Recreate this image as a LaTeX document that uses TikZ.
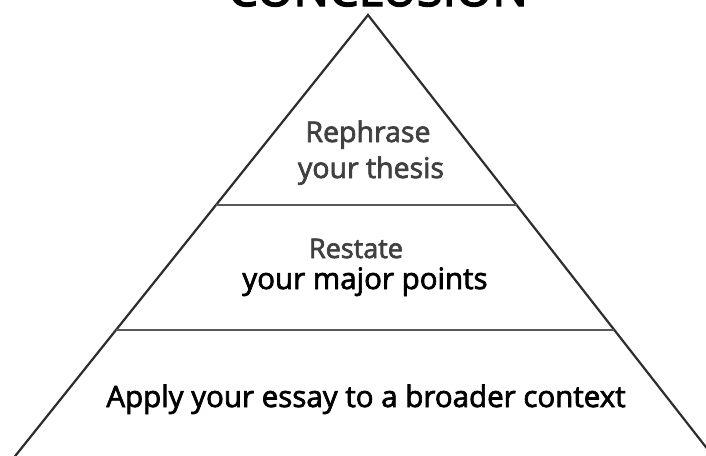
\documentclass[tikz,border=0pt]{standalone}
\usepackage{fontspec}
\setmainfont{Open Sans}
\newfontfamily\heavyfont{Open Sans}[FakeBold=2.4]
\newfontfamily\titlefont{Open Sans}[FakeBold=3]
\definecolor{inkgray}{HTML}{404040}
\definecolor{linegray}{HTML}{2E2E2E}
\tikzset{
  edge/.style={draw=linegray, line width=2.2pt, line join=miter},
  tier/.style={draw=linegray!80, line width=1.8pt},
  graytext/.style={anchor=base, inner sep=0pt, text=inkgray, font=\heavyfont\fontsize{28.5}{32}\selectfont},
  blacktext/.style={anchor=base, inner sep=0pt, text=black, font=\heavyfont\fontsize{29.5}{33}\selectfont},
}
\begin{document}
\begin{tikzpicture}[x=1pt,y=-1pt]
  \useasboundingbox (0,0) rectangle (706,455);
  \clip (0,0) rectangle (706,455);
  \fill[white] (0,0) rectangle (706,455);
  % title, cut off by the top edge
  \node[anchor=base, inner sep=0pt, font=\titlefont\fontsize{47}{51}\selectfont] (title) at (378,6) {CONCLUSION};
  % pyramid
  \coordinate (apex) at (368,15);
  \coordinate (bl) at (12,460);
  \coordinate (br) at (716,460);
  \coordinate (l1) at (216,205);
  \coordinate (r1) at (517,205);
  \coordinate (l2) at (116,330);
  \coordinate (r2) at (614,330);
  \draw[edge] (bl) -- (apex) -- (br);
  \draw[tier] (l1) -- (r1);
  \draw[tier] (l2) -- (r2);
  % texts
  \node[graytext] (reph) at (368,142) {Rephrase};
  \node[graytext] (thes) at (371,178) {your thesis};
  \node[graytext, font=\heavyfont\fontsize{27}{31}\selectfont] (rest) at (356,258) {Restate};
  \node[blacktext] (major) at (365,289) {your major points};
  \node[blacktext] (apply) at (366,407) {Apply your essay to a broader context};
\end{tikzpicture}
\end{document}
